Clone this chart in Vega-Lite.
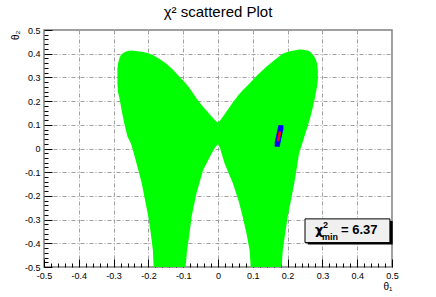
{
  "$schema": "https://vega.github.io/schema/vega-lite/v6.json",
  "width": 348,
  "height": 237,
  "autosize": {"type": "none"},
  "padding": {"left": 44, "top": 30, "right": 44, "bottom": 30},
  "background": "white",
  "title": {"text": "χ² scattered Plot", "fontSize": 15, "font": "Liberation Sans", "fontWeight": "normal", "color": "black", "anchor": "middle", "frame": "group", "baseline": "bottom", "offset": 11, "dy": 20},
  "config": {
    "view": {"stroke": "#808080", "strokeWidth": 1.5},
    "font": "Liberation Sans",
    "axis": {"labelFont": "Liberation Sans", "labelColor": "black", "labelFontSize": 9, "titleFont": "Liberation Sans", "titleFontWeight": "normal", "titleColor": "black", "titleFontSize": 10}
  },
  "resolve": {"axis": {"x": "independent", "y": "independent"}},
  "layer": [
    {
      "data": {"values": [
        {"x": -0.289, "lo": 0.27, "hi": 0.335},
        {"x": -0.287, "lo": 0.235, "hi": 0.36},
        {"x": -0.283, "lo": 0.21, "hi": 0.383},
        {"x": -0.278, "lo": 0.17, "hi": 0.397},
        {"x": -0.27, "lo": 0.11, "hi": 0.405},
        {"x": -0.26, "lo": 0.05, "hi": 0.411},
        {"x": -0.25, "lo": 0.02, "hi": 0.413},
        {"x": -0.242, "lo": -0.02, "hi": 0.412},
        {"x": -0.23, "lo": -0.085, "hi": 0.41},
        {"x": -0.219, "lo": -0.148, "hi": 0.408},
        {"x": -0.21, "lo": -0.215, "hi": 0.405},
        {"x": -0.2, "lo": -0.289, "hi": 0.402},
        {"x": -0.193, "lo": -0.36, "hi": 0.398},
        {"x": -0.187, "lo": -0.43, "hi": 0.394},
        {"x": -0.185, "lo": -0.5, "hi": 0.392},
        {"x": -0.17, "lo": -0.5, "hi": 0.38},
        {"x": -0.15, "lo": -0.5, "hi": 0.36},
        {"x": -0.13, "lo": -0.5, "hi": 0.333},
        {"x": -0.11, "lo": -0.5, "hi": 0.302},
        {"x": -0.093, "lo": -0.5, "hi": 0.275},
        {"x": -0.089, "lo": -0.43, "hi": 0.268},
        {"x": -0.082, "lo": -0.36, "hi": 0.255},
        {"x": -0.076, "lo": -0.289, "hi": 0.243},
        {"x": -0.062, "lo": -0.19, "hi": 0.212},
        {"x": -0.043, "lo": -0.092, "hi": 0.176},
        {"x": -0.02, "lo": -0.025, "hi": 0.138},
        {"x": -0.008, "lo": 0.005, "hi": 0.118},
        {"x": 0.0, "lo": 0.018, "hi": 0.11},
        {"x": 0.006, "lo": 0.0, "hi": 0.118},
        {"x": 0.019, "lo": -0.063, "hi": 0.145},
        {"x": 0.043, "lo": -0.148, "hi": 0.195},
        {"x": 0.06, "lo": -0.225, "hi": 0.228},
        {"x": 0.071, "lo": -0.289, "hi": 0.246},
        {"x": 0.082, "lo": -0.36, "hi": 0.262},
        {"x": 0.091, "lo": -0.43, "hi": 0.275},
        {"x": 0.094, "lo": -0.5, "hi": 0.28},
        {"x": 0.11, "lo": -0.5, "hi": 0.305},
        {"x": 0.138, "lo": -0.5, "hi": 0.344},
        {"x": 0.16, "lo": -0.5, "hi": 0.37},
        {"x": 0.183, "lo": -0.5, "hi": 0.397},
        {"x": 0.186, "lo": -0.43, "hi": 0.4},
        {"x": 0.193, "lo": -0.36, "hi": 0.404},
        {"x": 0.2, "lo": -0.289, "hi": 0.407},
        {"x": 0.21, "lo": -0.215, "hi": 0.411},
        {"x": 0.219, "lo": -0.148, "hi": 0.414},
        {"x": 0.226, "lo": -0.085, "hi": 0.416},
        {"x": 0.233, "lo": -0.02, "hi": 0.418},
        {"x": 0.245, "lo": 0.035, "hi": 0.417},
        {"x": 0.257, "lo": 0.091, "hi": 0.413},
        {"x": 0.265, "lo": 0.13, "hi": 0.408},
        {"x": 0.272, "lo": 0.17, "hi": 0.398},
        {"x": 0.278, "lo": 0.21, "hi": 0.385},
        {"x": 0.282, "lo": 0.24, "hi": 0.372},
        {"x": 0.285, "lo": 0.265, "hi": 0.355},
        {"x": 0.287, "lo": 0.29, "hi": 0.33}
      ]},
      "mark": {"type": "area", "color": "#00ff00", "opacity": 1},
      "encoding": {
        "x": {"field": "x", "type": "quantitative", "scale": {"domain": [-0.5, 0.5], "nice": false, "zero": false},
          "axis": {"orient": "bottom", "values": [-0.5, -0.4, -0.3, -0.2, -0.1, 0, 0.1, 0.2, 0.3, 0.4, 0.5], "grid": true, "gridColor": "#a0a0a0", "gridDash": [4, 2, 1, 2], "gridWidth": 1, "ticks": false, "domain": false, "labelPadding": 4, "labelExpr": "datum.value < 0 ? '-' + format(-datum.value, '~g') : format(datum.value, '~g')", "labelFlush": false, "labelOverlap": false, "title": "θ₁", "titleAnchor": "end", "titleAlign": "right", "titleBaseline": "top", "titlePadding": 1}},
        "y": {"field": "lo", "type": "quantitative", "scale": {"domain": [-0.5, 0.5], "nice": false, "zero": false},
          "axis": {"orient": "left", "values": [-0.5, -0.4, -0.3, -0.2, -0.1, 0, 0.1, 0.2, 0.3, 0.4, 0.5], "grid": true, "gridColor": "#a0a0a0", "gridDash": [4, 2, 1, 2], "gridWidth": 1, "ticks": false, "domain": false, "labelPadding": 4, "labelExpr": "datum.value < 0 ? '-' + format(-datum.value, '~g') : format(datum.value, '~g')", "labelFlush": false, "labelOverlap": false, "title": "θ₂", "titleAnchor": "end", "titleAlign": "right", "titlePadding": 4}},
        "y2": {"field": "hi"}
      }
    },
    {
      "data": {"values": [{"x1": 0.258, "x2": 0.502, "y1": -0.306, "y2": -0.405}]},
      "mark": {"type": "rect", "color": "black"},
      "encoding": {
        "x": {"field": "x1", "type": "quantitative", "axis": {"orient": "bottom", "values": [-0.5, -0.4, -0.3, -0.2, -0.1, 0, 0.1, 0.2, 0.3, 0.4, 0.5], "labels": false, "grid": false, "domain": false, "ticks": true, "tickSize": -8, "tickColor": "black", "title": null}},
        "x2": {"field": "x2"},
        "y": {"field": "y1", "type": "quantitative", "axis": {"orient": "left", "values": [-0.5, -0.4, -0.3, -0.2, -0.1, 0, 0.1, 0.2, 0.3, 0.4, 0.5], "labels": false, "grid": false, "domain": false, "ticks": true, "tickSize": -8, "tickColor": "black", "title": null}},
        "y2": {"field": "y2"}
      }
    },
    {
      "data": {"values": [{"x1": 0.25, "x2": 0.494, "y1": -0.297, "y2": -0.397}]},
      "mark": {"type": "rect", "fill": "#f0f0f0", "stroke": "black", "strokeWidth": 1},
      "encoding": {
        "x": {"field": "x1", "type": "quantitative", "axis": {"orient": "bottom", "values": [-0.48, -0.46, -0.44, -0.42, -0.38, -0.36, -0.34, -0.32, -0.28, -0.26, -0.24, -0.22, -0.18, -0.16, -0.14, -0.12, -0.08, -0.06, -0.04, -0.02, 0.02, 0.04, 0.06, 0.08, 0.12, 0.14, 0.16, 0.18, 0.22, 0.24, 0.26, 0.28, 0.32, 0.34, 0.36, 0.38, 0.42, 0.44, 0.46, 0.48], "labels": false, "grid": false, "domain": false, "ticks": true, "tickSize": -4, "tickColor": "black", "title": null}},
        "x2": {"field": "x2"},
        "y": {"field": "y1", "type": "quantitative", "axis": {"orient": "left", "values": [-0.48, -0.46, -0.44, -0.42, -0.38, -0.36, -0.34, -0.32, -0.28, -0.26, -0.24, -0.22, -0.18, -0.16, -0.14, -0.12, -0.08, -0.06, -0.04, -0.02, 0.02, 0.04, 0.06, 0.08, 0.12, 0.14, 0.16, 0.18, 0.22, 0.24, 0.26, 0.28, 0.32, 0.34, 0.36, 0.38, 0.42, 0.44, 0.46, 0.48], "labels": false, "grid": false, "domain": false, "ticks": true, "tickSize": -4, "tickColor": "black", "title": null}},
        "y2": {"field": "y2"}
      }
    },
    {
      "data": {"values": [
        {"x": 0.1702, "y": 0.018},
        {"x": 0.1715, "y": 0.027},
        {"x": 0.1728, "y": 0.036},
        {"x": 0.1741, "y": 0.045},
        {"x": 0.1754, "y": 0.054},
        {"x": 0.1767, "y": 0.063},
        {"x": 0.178, "y": 0.072},
        {"x": 0.1793, "y": 0.081},
        {"x": 0.1806, "y": 0.088}
      ]},
      "mark": {"type": "point", "shape": "square", "filled": true, "color": "#0000ff", "size": 26, "opacity": 1},
      "encoding": {
        "x": {"field": "x", "type": "quantitative", "axis": null},
        "y": {"field": "y", "type": "quantitative", "axis": null}
      }
    },
    {
      "data": {"values": [
        {"x": 0.1735, "y": 0.036},
        {"x": 0.1745, "y": 0.044},
        {"x": 0.1755, "y": 0.052},
        {"x": 0.1765, "y": 0.06},
        {"x": 0.1772, "y": 0.066}
      ]},
      "mark": {"type": "point", "shape": "square", "filled": true, "color": "#ff0000", "size": 7, "opacity": 1},
      "encoding": {
        "x": {"field": "x", "type": "quantitative", "axis": null},
        "y": {"field": "y", "type": "quantitative", "axis": null}
      }
    },
    {
      "data": {"values": [{"x": 0.372, "y": -0.347}]},
      "mark": {"type": "text", "text": "χ", "align": "left", "baseline": "alphabetic", "dx": -32.5, "dy": 3.3, "fontSize": 13, "fontWeight": "bold", "color": "black", "font": "DejaVu Sans"},
      "encoding": {
        "x": {"field": "x", "type": "quantitative", "axis": null},
        "y": {"field": "y", "type": "quantitative", "axis": null}
      }
    },
    {
      "data": {"values": [{"x": 0.372, "y": -0.347}]},
      "mark": {"type": "text", "text": "2", "align": "left", "baseline": "alphabetic", "dx": -24.5, "dy": -2.7, "fontSize": 9, "fontWeight": "bold", "color": "black", "font": "Liberation Sans"},
      "encoding": {
        "x": {"field": "x", "type": "quantitative", "axis": null},
        "y": {"field": "y", "type": "quantitative", "axis": null}
      }
    },
    {
      "data": {"values": [{"x": 0.372, "y": -0.347}]},
      "mark": {"type": "text", "text": "min", "align": "left", "baseline": "alphabetic", "dx": -25.5, "dy": 8.8, "fontSize": 9, "fontWeight": "bold", "color": "black", "font": "Liberation Sans"},
      "encoding": {
        "x": {"field": "x", "type": "quantitative", "axis": null},
        "y": {"field": "y", "type": "quantitative", "axis": null}
      }
    },
    {
      "data": {"values": [{"x": 0.372, "y": -0.347}]},
      "mark": {"type": "text", "text": "=  6.37", "align": "left", "baseline": "alphabetic", "dx": -6.5, "dy": 3.3, "fontSize": 13, "fontWeight": "bold", "color": "black", "font": "Liberation Sans"},
      "encoding": {
        "x": {"field": "x", "type": "quantitative", "axis": null},
        "y": {"field": "y", "type": "quantitative", "axis": null}
      }
    }
  ]
}
